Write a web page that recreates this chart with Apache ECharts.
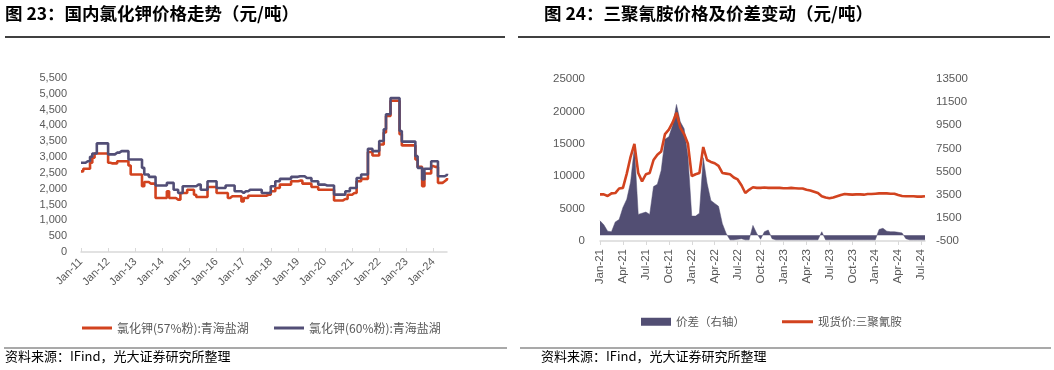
<!DOCTYPE html>
<html><head><meta charset="utf-8">
<script src="https://cdn.jsdelivr.net/npm/echarts@6/dist/echarts.min.js"></script>
<style>html,body{margin:0;padding:0;background:#fff}#c{width:1054px;height:370px}</style>
</head><body><div id="c"></div>
<script>
// ---- Chart 23: KCl prices, monthly Jan-2011 .. Jul-2024 ----
const kclStartYear = 2011;
const kcl57 = [
 2550,2630,2630,2630,2820,2980,3115,3115,3115,3115,3115,3115,
 2820,2800,2800,2800,2870,2870,2870,2870,2870,2735,2450,2450,
 2450,2450,2450,2080,2215,2215,2160,2160,2160,1705,1705,1705,
 1705,1705,1920,1705,1705,1705,1655,1655,1865,1865,1865,1970,
 1970,1970,1810,1740,1740,1740,1740,1740,2055,2055,2055,2055,
 1865,1865,1865,1865,1865,1705,1760,1760,1760,1760,1760,1600,
 1705,1705,1780,1780,1780,1780,1780,1780,1780,1780,1810,1810,
 1920,1920,2025,2025,2130,2130,2130,2130,2130,2235,2235,2235,
 2255,2255,2160,2160,2160,2160,2055,2055,2055,1970,1970,1970,
 1970,1970,1970,1970,1630,1630,1630,1630,1675,1675,1810,1810,
 1865,1865,2235,2235,2310,2310,2310,3160,3160,3050,3050,3050,
 3400,3400,3775,4300,4300,4780,4780,4780,4780,3720,3370,3370,
 3370,3370,3370,3370,2925,2690,2690,2080,2480,2480,2480,2715,
 2690,2690,2185,2185,2235,2290,2340
];
const kcl60 = [
 2820,2820,2870,2870,3010,3115,3115,3435,3435,3435,3435,3435,
 3085,3085,3085,3140,3140,3190,3190,3190,3190,2925,2925,2925,
 2925,2925,2925,2660,2450,2450,2375,2375,2375,2100,2100,2100,
 2100,2100,2185,2185,2185,1970,1970,1865,1865,2080,2080,2080,
 2080,2080,2080,2130,2130,1970,1970,1970,2235,2235,2235,2235,
 2025,2025,2025,2025,2100,2100,2100,2100,1920,1920,1920,1865,
 1920,1920,1970,1970,1970,1970,1970,1970,1865,1865,1865,1865,
 2080,2080,2235,2235,2310,2310,2310,2310,2310,2375,2375,2375,
 2395,2395,2395,2340,2340,2340,2235,2235,2235,2130,2130,2130,
 2100,2100,2100,2100,1815,1815,1815,1815,1815,1920,1920,2025,
 2025,2025,2340,2340,2450,2450,2450,3265,3265,3190,3190,3190,
 3510,3510,3880,4355,4355,4865,4865,4865,4865,3825,3490,3490,
 3490,3490,3490,3490,3030,2660,2660,2290,2630,2630,2630,2870,
 2870,2870,2395,2395,2395,2440,2470
];
const kclNames = ['氯化钾(57%粉):青海盐湖', '氯化钾(60%粉):青海盐湖'];

// ---- Chart 24: melamine, half-monthly Jan-2021 .. Jul-2024 ----
const melStartYear = 2021;
const melPrice = [
 7200,7200,6950,7350,7400,8100,8200,10400,13000,15000,
 10500,9200,10300,10500,12500,13300,13800,16500,17200,18300,
 19800,17500,16500,15000,10000,10300,10500,14500,12500,12200,
 12000,11600,10500,10400,10300,9800,9500,8600,7400,7900,
 8300,8200,8200,8250,8200,8200,8200,8200,8150,8150,
 8200,8150,8100,8100,7900,7800,7600,7400,6900,6700,
 6600,6700,6900,7100,7250,7200,7150,7200,7200,7150,
 7250,7250,7300,7350,7350,7350,7300,7300,7100,6950,
 6900,6900,6900,6850,6850,6900
];
const melSpread = [
 1250,900,350,300,1150,1350,2400,3100,4600,7600,
 1800,1900,2000,1800,4200,4400,5600,8300,8500,9500,
 11300,9800,9200,6800,1650,1650,1900,6700,4500,3000,
 2750,2500,1000,150,-400,-400,-350,-300,-400,-400,
 850,150,-350,300,450,-300,-400,-400,-400,-400,
 -400,-400,-400,-400,-400,-400,-400,-400,300,-400,
 -400,-400,-400,-400,-400,-400,-400,-400,-400,-400,
 -400,-400,-400,500,600,350,300,300,250,200,
 -300,-400,-400,-400,-400,-400
];
const melNames = ['价差（右轴）', '现货价:三聚氰胺'];

const MON = ['Jan','Feb','Mar','Apr','May','Jun','Jul','Aug','Sep','Oct','Nov','Dec'];
const kclCats = kcl57.map((_, i) => {
  const y = kclStartYear + Math.floor(i / 12), m = i % 12;
  return MON[m] + '-' + String(y).slice(2);
});
const melCats = melPrice.map((_, i) => {
  const mi = Math.floor(i / 2), y = melStartYear + Math.floor(mi / 12), m = mi % 12;
  return MON[m] + '-' + String(y).slice(2) + (i % 2 ? '-b' : '');
});

const RED = '#d2431f', PURPLE = '#524e76', AREA = '#524e73';
const GREY = '#595959', AX = '#d9d9d9';
const LAT = 'Liberation Sans, Arial, sans-serif';
const CJK = '"Noto Sans CJK SC", sans-serif';

const chart = echarts.init(document.getElementById('c'), null, {renderer: 'canvas'});
chart.setOption({
  animation: false,
  backgroundColor: '#fff',
  grid: [
    {left: 81, top: 78, width: 366, height: 174},
    {left: 600, top: 79, width: 325, height: 162}
  ],
  legend: [
    {data: [kclNames[0]], left: 77, top: 317, icon: 'rect', itemWidth: 30, itemHeight: 3,
     textStyle: {color: GREY, fontSize: 12, fontFamily: CJK}},
    {data: [kclNames[1]], left: 269, top: 317, icon: 'rect', itemWidth: 30, itemHeight: 3,
     textStyle: {color: GREY, fontSize: 12, fontFamily: CJK}},
    {data: [melNames[0]], left: 636, top: 311, icon: 'rect', itemWidth: 30, itemHeight: 8,
     textStyle: {color: GREY, fontSize: 11.5, fontFamily: CJK}},
    {data: [melNames[1]], left: 777, top: 311, icon: 'rect', itemWidth: 31, itemHeight: 3,
     textStyle: {color: GREY, fontSize: 11.5, fontFamily: CJK}}
  ],
  xAxis: [
    {type: 'category', gridIndex: 0, data: kclCats, boundaryGap: false,
     axisLine: {lineStyle: {color: AX, width: 1.5}},
     axisTick: {show: true, inside: true, length: 4, interval: (i) => i % 12 === 0, lineStyle: {color: AX}},
     axisLabel: {interval: (i) => i % 12 === 0, rotate: 45, color: GREY, fontSize: 11, fontFamily: LAT, margin: 8},
     splitLine: {show: false}},
    {type: 'category', gridIndex: 1, data: melCats, boundaryGap: false,
     axisLine: {lineStyle: {color: AX, width: 1.5}},
     axisTick: {show: true, length: 4, interval: (i) => i % 6 === 0, lineStyle: {color: AX}},
     axisLabel: {interval: (i) => i % 6 === 0, rotate: 90, color: GREY, fontSize: 11.5, fontFamily: LAT, margin: 8,
       formatter: (v) => v.replace('-b', '')},
     splitLine: {show: false}}
  ],
  yAxis: [
    {type: 'value', gridIndex: 0, min: 0, max: 5500, interval: 500,
     axisLine: {show: false}, axisTick: {show: false}, splitLine: {show: false},
     axisLabel: {color: GREY, fontSize: 11, fontFamily: LAT, margin: 14,
       formatter: (v) => v.toLocaleString('en-US')}},
    {type: 'value', gridIndex: 1, position: 'left', min: 0, max: 25000, interval: 5000,
     axisLine: {show: false}, axisTick: {show: false}, splitLine: {show: false},
     axisLabel: {color: GREY, fontSize: 11.5, fontFamily: LAT, margin: 15, formatter: (v) => String(v)}},
    {type: 'value', gridIndex: 1, position: 'right', min: -500, max: 13500, interval: 2000,
     axisLine: {show: false}, axisTick: {show: false}, splitLine: {show: false},
     axisLabel: {color: GREY, fontSize: 11.5, fontFamily: LAT, margin: 11, formatter: (v) => String(v)}}
  ],
  series: [
    {name: kclNames[0], type: 'line', xAxisIndex: 0, yAxisIndex: 0, data: kcl57, step: 'end',
     symbol: 'none', itemStyle: {color: RED}, lineStyle: {color: RED, width: 2.6}},
    {name: kclNames[1], type: 'line', xAxisIndex: 0, yAxisIndex: 0, data: kcl60, step: 'end',
     symbol: 'none', itemStyle: {color: PURPLE}, lineStyle: {color: PURPLE, width: 2.6}},
    {name: melNames[0], type: 'line', xAxisIndex: 1, yAxisIndex: 2, data: melSpread,
     symbol: 'none', itemStyle: {color: AREA}, lineStyle: {width: 0.5, color: AREA},
     areaStyle: {color: AREA, opacity: 1}},
    {name: melNames[1], type: 'line', xAxisIndex: 1, yAxisIndex: 1, data: melPrice,
     symbol: 'none', itemStyle: {color: RED}, lineStyle: {color: RED, width: 2.6}}
  ],
  graphic: [
    {type: 'text', left: 5, top: 5, style: {text: '图 23：国内氯化钾价格走势（元/吨）', font: 'bold 17.5px ' + CJK, fill: '#000'}},
    {type: 'text', left: 544, top: 5, style: {text: '图 24：三聚氰胺价格及价差变动（元/吨）', font: 'bold 17.5px ' + CJK, fill: '#000'}},
    {type: 'line', shape: {x1: 5, y1: 37, x2: 505, y2: 37}, style: {stroke: '#000', lineWidth: 1.5}},
    {type: 'line', shape: {x1: 518, y1: 37, x2: 1050, y2: 37}, style: {stroke: '#000', lineWidth: 1.5}},
    {type: 'line', shape: {x1: 4, y1: 348, x2: 507, y2: 348}, style: {stroke: '#555', lineWidth: 1.2}},
    {type: 'line', shape: {x1: 520, y1: 348, x2: 1051, y2: 348}, style: {stroke: '#555', lineWidth: 1.2}},
    {type: 'text', left: 5, top: 350, style: {text: '资料来源：IFind，光大证券研究所整理', font: '13px ' + CJK, fill: '#000'}},
    {type: 'text', left: 541, top: 350, style: {text: '资料来源：IFind，光大证券研究所整理', font: '13px ' + CJK, fill: '#000'}}
  ]
});
</script></body></html>
